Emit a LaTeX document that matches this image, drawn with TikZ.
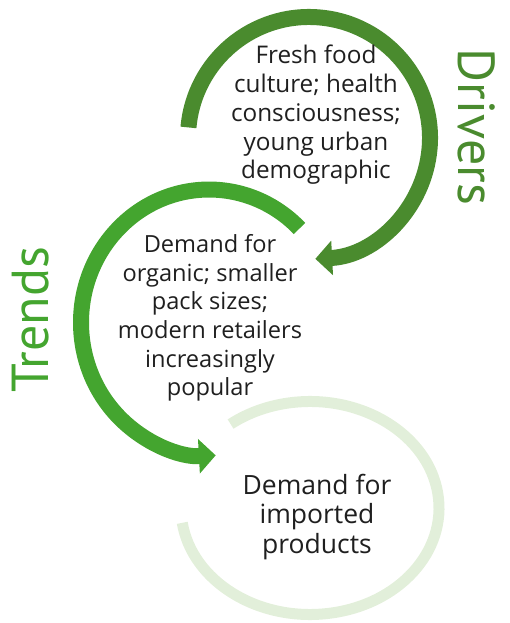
\documentclass[tikz,border=0pt]{standalone}
\usepackage{fontspec}
\setmainfont{Open Sans}
\newfontfamily\labelfont{PT Sans}
\usetikzlibrary{arrows.meta}
\definecolor{drivergreen}{HTML}{4A8B2E}
\definecolor{trendgreen}{HTML}{44A52F}
\definecolor{palegreen}{HTML}{E2EFDA}
\tikzset{ringtext/.style={align=center,text=black!88,inner sep=0pt,
font=\fontsize{#1}{28.7}\selectfont}}
\tikzset{ringlabel/.style={inner sep=0pt,font=\labelfont\fontsize{52}{60}\selectfont}}
\tikzset{ringarrow/.style={line width=16pt,-{Triangle[length=0pt 1.05,width=0pt 2.1]}}}

\begin{document}
\begin{tikzpicture}[x=1pt,y=1pt]
    \useasboundingbox (0,0) rectangle (509,623);

    % centres of the three rings
    \coordinate (driversc) at (309,485);
    \coordinate (trendsc) at (209,304);
    \coordinate (importc) at (310,115);

    % rings
    \draw[palegreen,line width=11pt] ([shift={(188:129 and 106.5)}]importc)
        arc[start angle=188,end angle=488,x radius=129,y radius=106.5];
    \draw[trendgreen,ringarrow] ([shift={(45:128)}]trendsc)
        arc[start angle=45,end angle=273,x radius=128,y radius=133];
    \draw[drivergreen,ringarrow] ([shift={(175:121)}]driversc)
        arc[start angle=175,end angle=-87,radius=121];

    % texts inside the rings
    \node[ringtext=24.3] (driverstext) at (316,508) {Fresh food\\culture; health\\consciousness;\\young urban\\demographic};
    \node[ringtext=23.6] (trendstext) at (210,305) {Demand for\\organic; smaller\\pack sizes;\\modern retailers\\increasingly\\popular};
    \node[ringtext=26.5,font=\fontsize{26.5}{29.5}\selectfont] (importtext) at (317,106) {Demand for\\imported\\products};

    % side labels
    \node[ringlabel,text=drivergreen,rotate=-90] (drivers) at (477,496) {Drivers};
    \node[ringlabel,text=trendgreen,rotate=90] (trends) at (31,303) {Trends};

\end{tikzpicture}
\end{document}
